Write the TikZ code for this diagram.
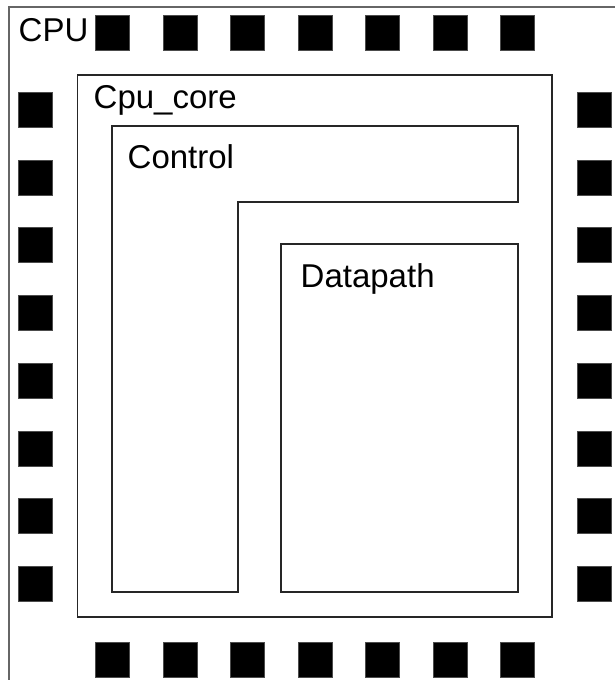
\documentclass[tikz,border=0pt]{standalone}
\usepackage{fontspec}
\setmainfont{Liberation Sans}
\begin{document}
\begin{tikzpicture}[x=1pt,y=-1pt,
  pin/.style={fill=black,draw=black!70,line width=0.6pt,minimum width=34pt,minimum height=35pt,inner sep=0pt,anchor=north west},
  lbl/.style={inner sep=0pt,anchor=base west,font=\fontsize{33}{36}\selectfont},
  box/.style={draw=black!85,line width=1.1pt}]
\useasboundingbox (0,0) rectangle (615,680);
\begin{scope}
\clip (0,0) rectangle (615,680);
\draw[box,draw=black!60,line width=1.6pt] (9,700) -- (9,7) -- (640,7);
\end{scope}
% pins
\foreach \k in {0,...,6}{
  \node[pin] (t\k) at ({95+67.5*\k},15) {};
  \node[pin] (b\k) at ({95+67.5*\k},642) {};
}
\foreach \k in {0,...,7}{
  \node[pin] (l\k) at (18,{92+67.7*\k}) {};
  \node[pin] (r\k) at (577,{92+67.7*\k}) {};
}
% Cpu_core
\draw[box] (77.5,75) rectangle (552,617);
% Control
\draw[box] (112,126) -- (518,126) -- (518,202) -- (238,202) -- (238,592) -- (112,592) -- cycle;
% Datapath
\draw[box] (281,244) rectangle (518,592);
% labels
\node[lbl] (cpu) at (18.5,41) {CPU};
\node[lbl] (core) at (93.5,108) {Cpu\_core};
\node[lbl] (ctrl) at (127.5,168) {Control};
\node[lbl] (dp) at (300.5,287) {Datapath};
\end{tikzpicture}
\end{document}
